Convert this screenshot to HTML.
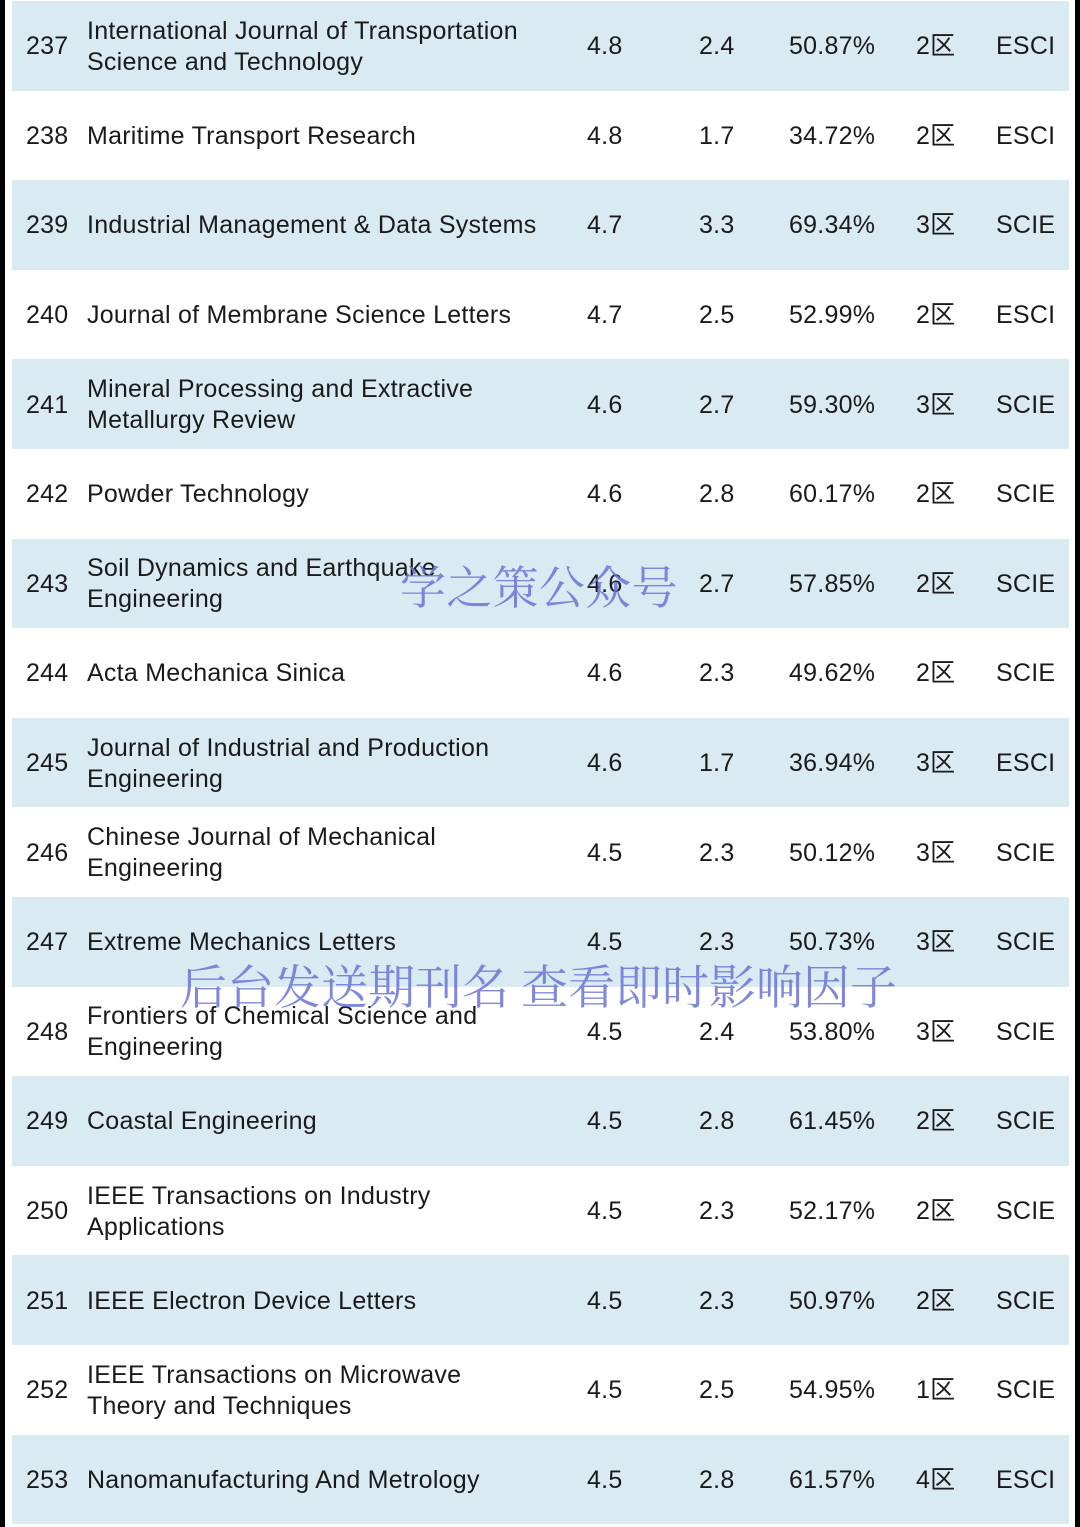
<!DOCTYPE html>
<html><head><meta charset="utf-8"><style>
body{margin:0;width:1080px;height:1527px;background:#fff;position:relative;overflow:hidden;font-family:"Liberation Sans","Noto Sans CJK SC",sans-serif;color:#1a1a1a}
.bar{position:absolute;top:0;width:5px;height:1527px;background:#000}
.row{position:absolute;left:12px;width:1057px;height:89.6px}
.row.s{background:#d9eaf3}
.c{position:absolute;top:1px;height:100%;display:flex;align-items:center;font-size:25px;letter-spacing:0.25px;line-height:31px;white-space:nowrap}
.wm{position:absolute;font-family:"Noto Serif CJK SC",serif;font-size:46px;color:#6b74d6;opacity:.85;white-space:nowrap}
</style></head><body>
<div class="bar" style="left:0"></div>
<div class="bar" style="left:1075px"></div>
<div id="t"></div>
<div class="wm" style="left:400px;top:552px;letter-spacing:0.3px">学之策公众号</div>
<div class="wm" style="left:180px;top:951px;font-size:47px">后台发送期刊名 查看即时影响因子</div>
<script>
const ranks=[237,238,239,240,241,242,243,244,245,246,247,248,249,250,251,252,253];
const names=[["International Journal of Transportation","Science and Technology"],["Maritime Transport Research"],["Industrial Management & Data Systems"],["Journal of Membrane Science Letters"],["Mineral Processing and Extractive","Metallurgy Review"],["Powder Technology"],["Soil Dynamics and Earthquake","Engineering"],["Acta Mechanica Sinica"],["Journal of Industrial and Production","Engineering"],["Chinese Journal of Mechanical","Engineering"],["Extreme Mechanics Letters"],["Frontiers of Chemical Science and","Engineering"],["Coastal Engineering"],["IEEE Transactions on Industry","Applications"],["IEEE Electron Device Letters"],["IEEE Transactions on Microwave","Theory and Techniques"],["Nanomanufacturing And Metrology"]];
const ifs=["4.8","4.8","4.7","4.7","4.6","4.6","4.6","4.6","4.6","4.5","4.5","4.5","4.5","4.5","4.5","4.5","4.5"];
const ifs5=["2.4","1.7","3.3","2.5","2.7","2.8","2.7","2.3","1.7","2.3","2.3","2.4","2.8","2.3","2.3","2.5","2.8"];
const pcts=["50.87%","34.72%","69.34%","52.99%","59.30%","60.17%","57.85%","49.62%","36.94%","50.12%","50.73%","53.80%","61.45%","52.17%","50.97%","54.95%","61.57%"];
const zones=["2区","2区","3区","2区","3区","2区","2区","2区","3区","3区","3区","3区","2区","2区","2区","1区","4区"];
const idx=["ESCI","ESCI","SCIE","ESCI","SCIE","SCIE","SCIE","SCIE","ESCI","SCIE","SCIE","SCIE","SCIE","SCIE","SCIE","SCIE","ESCI"];
const t=document.getElementById('t');
function cell(row,x,html,name){const d=document.createElement('div');d.className='c';d.style.left=x+'px';d.innerHTML=html;


row.appendChild(d);}
ranks.forEach((r,i)=>{const row=document.createElement('div');row.className='row'+(i%2==0?' s':'');row.style.top=(i*89.6+1)+'px';


cell(row,14,r,'rank');cell(row,75,names[i].join('<br>'),'journal-name');cell(row,575,ifs[i],'impact-factor');cell(row,687,ifs5[i],'five-year-if');cell(row,777,pcts[i],'oa-percent');cell(row,904,zones[i],'zone');cell(row,984,idx[i],'index');
t.appendChild(row);});
</script>
</body></html>
